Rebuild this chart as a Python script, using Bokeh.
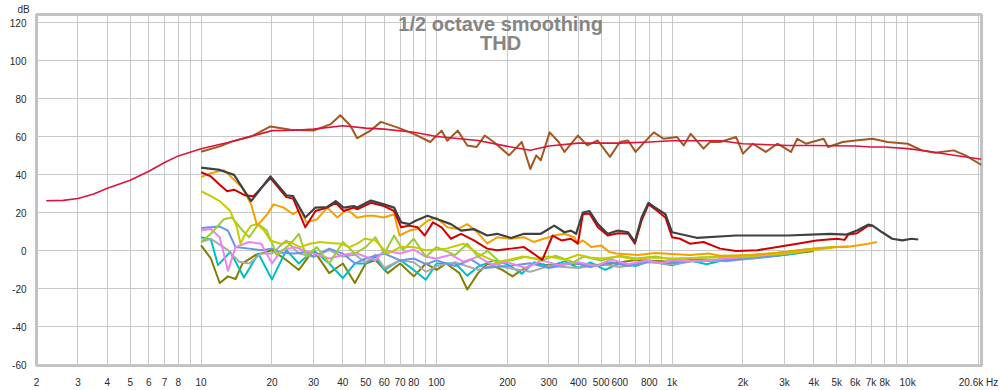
from bokeh.plotting import figure
from bokeh.models import FixedTicker, Label, Title
from bokeh.embed import file_html
from bokeh.resources import INLINE

# ---------------- data ----------------
FUND_SMOOTH_F = [2.2, 2.6, 3, 3.5, 4, 5, 6, 7, 8, 10, 13, 16, 20, 25, 30, 40, 50, 60, 80, 100,
                 150, 200, 250, 300, 400, 600, 800, 1000, 1600, 2000, 3100, 4000, 6000, 7000,
                 8000, 10000, 11500, 13000, 15700, 20600]
FUND_SMOOTH_DB = [26.4, 26.6, 27.6, 30, 33, 37.2, 41.9, 46.5, 50, 53.8, 57, 60, 63.3, 63.5, 64.1, 65.9, 64.6, 64.1, 62.4, 60.2,
                  58.1, 55, 53, 55.2, 56.7, 56.7, 57.3, 58, 58, 56.4, 55.5, 55.5, 55.2, 54.7,
                  54.7, 53.8, 52.9, 51.9, 50.3, 48.2]

FUND_F = [10, 12, 13.5, 16.5, 19.7, 24, 30, 35.5, 39, 43, 46, 52, 58, 68, 80, 94, 105, 111, 123, 135,
          148, 160, 175, 203, 230, 250, 265, 277, 302, 330, 349, 398, 436, 483, 545, 600, 650, 700, 760, 836,
          920, 1050, 1120, 1200, 1360, 1450, 1600, 1870, 2000, 2200, 2500, 2800, 3200, 3400, 3700, 4400,
          4600, 5300, 6000, 7100, 8200, 10000, 11500, 13100, 15700, 17600, 20600]
FUND_DB = [52.2, 55, 57.5, 60.5, 65.5, 63.8, 63.3, 66.7, 71.4, 66, 59.3, 63, 67.9, 65, 61.6, 57.3, 63.3, 58, 63.3, 55.5,
           54.7, 60.7, 57.3, 50.3, 57.3, 43.1, 50.3, 47.7, 62.4, 57.3, 52.1, 60.7, 55.5, 58.1, 49.5, 57.3, 58.1, 52.1, 57, 62.4,
           59, 59.9, 55.5, 61.6, 53.8, 57.3, 57.3, 59.9, 51.2, 56.4, 52.1, 56.4, 52.1, 59, 56.4, 59,
           54.7, 57.3, 58.1, 59, 57.3, 56.4, 52.9, 51.7, 52.9, 50.3, 45.2]

THD_F = [10, 12, 13.8, 16.3, 19.7, 23, 24.6, 27.7, 30.6, 34.3, 37.3, 40.3, 44.5, 46, 52.6, 59.8, 66, 70.7, 76.6, 81.5,
         91.5, 100.8, 115, 127, 144, 164, 181, 207, 235, 277, 316, 349, 372, 391, 418, 446, 484, 533, 589, 651,
         695, 742, 794, 848, 937, 1000, 1270, 1870, 3100, 4700, 5500, 6100, 6800, 7100, 7800, 8600, 9500, 10400, 11100]
THD_DB = [43.8, 42.6, 40, 26.2, 39.2, 29.3, 28.8, 17.6, 22.8, 23.1, 26.2, 22.8, 23.6, 22.8, 26.5, 24.5, 22.8, 15, 14.1, 15.9,
          18.5, 16.7, 14.1, 10.7, 11.5, 8.1, 9, 6.8, 9, 9, 13.3, 9.8, 10.7, 9, 20.2, 21, 14.1, 9, 10.7, 9.8,
          4.7, 17.6, 25.3, 22.8, 19.3, 9.8, 6.9, 8.1, 8.1, 9, 8.6, 10.7, 13.8, 13.3, 9.8, 6.4, 5.5, 6.4, 6]

H2_F = [10, 11, 12, 12.9, 13.8, 15.3, 16.7, 19.7, 23, 24.6, 27.7, 30.6, 34.3, 37.3, 40.3, 44.5, 46, 52.6, 59.8, 66,
        70.7, 76.6, 83, 89, 96.5, 105, 115, 127, 144, 164, 181, 207, 235, 258, 281, 311, 339, 372, 398, 418,
        446, 484, 533, 589, 651, 695, 742, 794, 848, 937, 1000, 1080, 1190, 1360, 1600, 1870, 2300, 2800, 3400,
        4100, 5000, 5400, 5600, 6100, 6800, 7100]
H2_DB = [41.4, 39.2, 34.8, 31.4, 32.2, 29.3, 28.8, 38.3, 28.3, 27.5, 12.4, 21, 22.8, 25.3, 21, 22.8, 21.9, 25.3, 23.6, 21,
         12.4, 13.3, 12.4, 8.1, 15, 12.4, 6.4, 9, 5.5, 1.2, 0.4, 1.2, 2, -1.4, -4.8, 8.1, 5.5, 6.4, 3.8, 19.3,
         19.7, 12.4, 8.1, 9.3, 9, 3.8, 15.9, 24.5, 21.9, 17.6, 7.2, 6.4, 3.8, 4.7, 1.2, 0, 0.4, 2, 3.8,
         5.5, 6.4, 5.8, 8.6, 9.3, 13.3, 13.3]

H3_F = [10, 11, 12.5, 15, 16.3, 17.3, 19.1, 20.3, 22.4, 24.6, 26.3, 28, 31.1, 34.3, 37.9, 41.6, 46, 50.6, 54, 59.8,
        66, 69.6, 76.6, 83, 91.5, 99.6, 111, 123, 135, 149, 164, 181, 207, 235, 258, 285, 316, 349, 384, 398,
        418, 455, 500, 540, 580, 715, 848, 1000, 1190, 1430, 1600, 2200, 3100, 4000, 5000, 5500, 6100, 6800, 7400]
H3_DB = [38.8, 40.9, 42.5, 33.1, 24.5, 13.3, 19.3, 24.5, 22.8, 19.3, 21.9, 15, 16.7, 22.8, 17.6, 21.9, 17.5, 18.5, 18.5, 17.6,
         19.3, 8.1, 10.7, 11.5, 15.9, 17.6, 12.4, 11.5, 14.1, 9.8, 3.8, 7.2, 6.4, 7.2, 4.7, 6.4, 8.1, 9, 7.2, 3.8,
         5.5, 2, 2.9, -0.5, -1.4, -2.2, -1.1, -1.6, -2.2, -1.4, -2.6, -2.2, -0.5, 1.2, 2, 2, 2.9, 3.8, 4.7]

H4_F = [10, 11, 12, 13.3, 14.2, 14.7, 15.4, 16.3, 17.3, 18.5, 19.7, 21.7, 23.9, 26.3, 29, 32, 35.3, 39, 42.7, 46,
        49.6, 55, 62, 70, 80, 90, 110, 130, 150, 180, 200, 230, 260, 300, 350, 400, 450, 500, 600, 700,
        800, 1000, 1500, 2000, 3000, 4000, 5000, 5600]
H4_DB = [31.4, 28.8, 26.2, 21, 12.4, 3.8, 9, 13.3, 14.1, 10.7, 5.5, 3.8, 4.7, 2, 3.8, 4.7, 4.1, 3.8, 2, 3.8,
         6.4, 5.5, -1.4, 2, 2, 0.4, 1.2, 3.8, -1.4, -6, -4.8, -3, -4, -3, -4.5, -2, -3.5, -4, -3, -4.5,
         -3.5, -4, -3.5, -3, -1.5, 0.5, 2, 2.4]

H5_F = [10, 11, 12.5, 13.5, 15, 16, 17.5, 19, 21, 24, 26, 28, 31, 35, 40, 45, 50, 55, 60, 66,
        72, 80, 90, 100, 120, 135, 150, 165, 185, 210, 240, 280, 320, 380, 420, 500, 600, 700, 850, 1000,
        1300, 1700, 2200, 2800, 3500, 4200, 5000]
H5_DB = [4.7, 9, 16.7, 17.6, 10.7, 7.2, 14.1, 10.7, -2.2, 3.8, 9, -3.1, 2, -6.6, 4.7, -1.4, 2, 7.2, -1.4, 8.1,
         0.4, 6.4, -3.1, 2, -2.2, 3.8, -3.1, 0, -5.7, -4.8, -3, -5, -2.5, -6, -3, -5, -2.5, -4, -3, -4.5,
         -3.5, -3, -2, -1, 0.5, 1.5, 2.2]

H6_F = [10, 11, 12, 13, 14, 16, 18, 20, 22, 25, 30, 35, 40, 45, 50, 55, 60, 70, 80, 90,
        100, 115, 130, 150, 170, 200, 240, 280, 330, 400, 480, 550, 650, 780, 900, 1000, 1300, 1700, 2200,
        2800, 3300, 3700]
H6_DB = [10.7, 11.5, 7.2, -10.5, 2, 4.7, 3.8, -6.6, 0.4, 2, -1.4, -4, -2.2, -1, -3.1, -5, 0.4, -1.4, 0.7, -3.1,
         -4, -2, -5.7, -3, -7, -6, -9, -5, -7.5, -6, -8, -4.5, -7, -5, -6.5, -5, -5.5, -4, -3,
         -1.5, 0, 0.8]

H7_F = [10, 11, 12, 13, 14, 16, 18, 20, 22, 25, 28, 30, 35, 40, 45, 50, 60, 70, 80, 90,
        100, 120, 140, 160, 200, 250, 300, 380, 450, 550, 650, 800, 1000, 1300, 1700, 2200, 2800, 3300, 3700]
H7_DB = [12, 12.4, 12.8, 10.7, 2, 1.2, 0.4, 1.2, -1, -1.4, -0.5, -3.1, 1.2, -1.4, -6.6, -4, -1.4, -5, -4, -7,
         -5, -8, -4.5, -9, -8, -6.5, -9, -6, -8.5, -6, -8, -5.5, -6.5, -4.5, -5, -3.5, -2.5, -0.5, 0.5]

H8_F = [10, 11, 13, 14.5, 16, 18, 20, 23, 26, 30, 35, 40, 45, 50, 55, 60, 70, 80, 90, 100,
        120, 150, 180, 200, 250, 300, 400, 500, 600, 800, 1000, 1300, 1700, 2200, 2800, 3300, 3700]
H8_DB = [4.7, 6.4, 0.4, -5.7, -6.6, -1.4, -1.4, 5.5, -1.4, -3.1, 0.4, -3, -2, -6, -2, -9, -5, -6, -11, -8,
         -6, -10, -7, -9, -11, -8, -9, -7, -8.5, -6, -7, -5, -5.5, -4, -2, -1, 0.3]

H9_F = [10, 11, 11.8, 13.3, 15.2, 17.5, 20, 23, 26, 30, 35, 40, 45, 50, 55, 60, 70, 80, 90, 100,
        120, 135, 150, 175, 200, 230, 260, 300, 350, 400, 450, 520, 600, 700, 800, 1000, 1200, 1400, 1700,
        2200, 2800, 3300, 3700]
H9_DB = [7.2, 6, -7.5, -0.5, -14, -1.4, -15, 0.4, -6.6, 0.4, -6.6, -14.3, -6.6, -6.6, -3.1, -10, -4.8, -10, -15.2, -6.6,
         -6.6, -13, -8.3, -5, -7, -12, -6, -8, -5.5, -9, -6, -10, -6.5, -8, -5.5, -7.5, -5, -7, -4.5,
         -4, -2.5, -1.5, 0]

H10_F = [10, 11, 12, 13, 14, 15, 17, 18, 20, 23, 26, 30, 35, 40, 45, 50, 55, 62, 70, 80,
         90, 100, 110, 125, 135, 150, 165, 190, 210, 230, 260, 300, 400, 500, 700, 1000, 1200, 1500, 2000,
         2500, 3000, 3500, 4000]
H10_DB = [2.9, -4, -16.9, -13.4, -14.8, -6.6, -2.2, -1.4, 0.4, -4.8, -10, 0.4, -11.7, -6.6, -16.9, -6.6, -4.8, -11.7, -6.6, -13.4,
          -6.6, -10, -6.6, -11.7, -20.3, -11.7, -6.6, -10, -13.4, -10, -6.6, -7.5, -6.6, -7.5, -4.8, -5.7, -4.8, -5.3, -4,
          -3, -2, -1, 0]

SERIES = [
    (H10_F, H10_DB, "#808000", 2),
    (H9_F, H9_DB, "#00bfc4", 2),
    (H8_F, H8_DB, "#a9a9a9", 2),
    (H7_F, H7_DB, "#6495ed", 2),
    (H6_F, H6_DB, "#ee82ee", 2),
    (H5_F, H5_DB, "#9acd32", 2),
    (H4_F, H4_DB, "#c4cc00", 2),
    (H3_F, H3_DB, "#f5a000", 2),
    (H2_F, H2_DB, "#d00000", 2),
    (THD_F, THD_DB, "#404040", 2.2),
    (FUND_F, FUND_DB, "#a5561f", 2),
    (FUND_SMOOTH_F, FUND_SMOOTH_DB, "#dc143c", 1.6),
]

X_TICKS = [2, 3, 4, 5, 6, 7, 8, 9, 10, 20, 30, 40, 50, 60, 70, 80, 90, 100, 200, 300, 400, 500, 600, 700,
           800, 900, 1000, 2000, 3000, 4000, 5000, 6000, 7000, 8000, 9000, 10000, 20000]
X_LABELS = ["2", "3", "4", "5", "6", "7", "8", "", "10", "20", "30", "40", "50", "60", "70", "80", "", "100",
            "200", "300", "400", "500", "600", "", "800", "", "1k", "2k", "3k", "4k", "5k", "6k", "7k", "8k", "",
            "10k", "20.6k Hz"]
Y_TICKS = [-60, -40, -20, 0, 20, 40, 60, 80, 100, 120]
Y_LABELS = ["-60", "-40", "-20", "0", "20", "40", "60", "80", "100", "120"]

TITLE_1 = "1/2 octave smoothing"
TITLE_2 = "THD"
Y_UNIT = "dB"

# ---------------- figure ----------------
p = figure(width=1000, height=390, x_axis_type="log", x_range=(2, 20600), y_range=(-60.3, 124.4),
           output_backend="svg", toolbar_location=None,
           min_border_left=36, min_border_right=19, min_border_top=14, min_border_bottom=19)
p.background_fill_color = "white"
p.border_fill_color = "white"
p.outline_line_color = "#c2c2c2"
p.outline_line_width = 3

# unit label above the y axis, in the top border
p.title = Title(text=Y_UNIT, align="left", offset=-19, standoff=0,
                text_font="Liberation Sans", text_font_size="10px", text_font_style="normal",
                text_color="#2a2a2a")

for ax in (p.xaxis[0], p.yaxis[0]):
    ax.axis_line_color = None
    ax.major_tick_line_color = None
    ax.minor_tick_line_color = None
    ax.major_label_text_font = "Liberation Sans"
    ax.major_label_text_font_size = "10px"
    ax.major_label_text_color = "#2a2a2a"

p.xaxis.ticker = FixedTicker(ticks=X_TICKS)
p.xaxis.major_label_overrides = {t: l for t, l in zip(X_TICKS, X_LABELS)}
p.xaxis.major_label_standoff = 5
p.yaxis.ticker = FixedTicker(ticks=Y_TICKS)
p.yaxis.major_label_overrides = {t: l for t, l in zip(Y_TICKS, Y_LABELS)}
p.yaxis.major_label_standoff = 4

p.xgrid.grid_line_color = "#c8c8c8"
p.ygrid.grid_line_color = "#c8c8c8"
p.xgrid.grid_line_width = 1
p.ygrid.grid_line_width = 1

for fx, db, col, lw in SERIES:
    p.line(fx, db, line_color=col, line_width=lw, line_join="round")

p.add_layout(Label(x=187, y=119.6, text=TITLE_1, text_align="center", text_baseline="alphabetic",
                   text_font="Liberation Sans", text_font_size="20px", text_font_style="bold",
                   text_color="#858585"))
p.add_layout(Label(x=187, y=109.2, text=TITLE_2, text_align="center", text_baseline="alphabetic",
                   text_font="Liberation Sans", text_font_size="20px", text_font_style="bold",
                   text_color="#858585"))

open("out.html", "w").write(file_html(p, INLINE))
